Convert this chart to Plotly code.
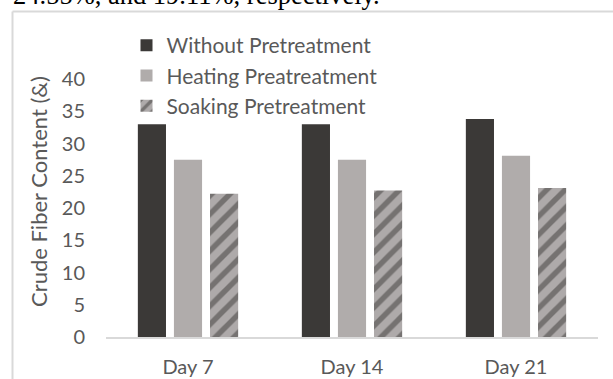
import plotly.graph_objects as go

categories = ["Day 7", "Day 14", "Day 21"]
without_pre = [33.0, 33.0, 33.8]
heating_pre = [27.5, 27.5, 28.1]
soaking_pre = [22.2, 22.7, 23.1]
series_names = ["Without Pretreatment", "Heating Preatreatment", "Soaking Pretreatment"]
y_ticks = [0, 5, 10, 15, 20, 25, 30, 35, 40]
y_title = "Crude Fiber Content (&)"
caption = "24.55%, and 19.11%, respectively."

W, H = 613, 379
ML, MR, MT, MB = 106, 15, 79, 42
PW = W - ML - MR
PH = H - MT - MB

def px_x(p):
    return (p - ML) / PW

def px_y(p):
    return 1 - (p - MT) / PH

FONT = "Lato"
TXT = "#595959"

fig = go.Figure()
fig.add_trace(go.Bar(x=categories, y=without_pre, name=series_names[0],
                     marker=dict(color="#3b3937", line=dict(width=0))))
fig.add_trace(go.Bar(x=categories, y=heating_pre, name=series_names[1],
                     marker=dict(color="#b0acab", line=dict(width=0))))
fig.add_trace(go.Bar(x=categories, y=soaking_pre, name=series_names[2],
                     marker=dict(color="#aeaaaa", line=dict(width=0),
                                 pattern=dict(shape="/", fgcolor="#3b3937",
                                              fillmode="overlay", size=13, solidity=0.42))))

fig.update_layout(
    width=W, height=H,
    margin=dict(l=ML, r=MR, t=MT, b=MB, pad=0, autoexpand=False),
    paper_bgcolor="white", plot_bgcolor="white",
    barmode="group", bargap=0.34, bargroupgap=0.22,
    font=dict(family=FONT, size=20, color=TXT),
    showlegend=True,
    legend=dict(x=px_x(126.5), xanchor="left", y=px_y(25), yanchor="top",
                bgcolor="rgba(0,0,0,0)", font=dict(family=FONT, size=21, color=TXT),
                traceorder="normal", itemclick=False),
)
fig.update_xaxes(showline=True, linecolor="#d9d9d9", linewidth=2, ticks="",
                 showgrid=False, zeroline=False, ticklabelstandoff=11, automargin=False,
                 tickfont=dict(family=FONT, size=20, color=TXT))
fig.update_yaxes(range=[0, 40], tickvals=y_ticks, showgrid=False, zeroline=False,
                 showline=False, ticks="", ticklabelstandoff=20, automargin=False,
                 tickfont=dict(family=FONT, size=20, color=TXT))

# y axis title, placed as in the reference
fig.add_annotation(text=y_title, xref="paper", yref="paper",
                   x=px_x(38), y=px_y(192), xanchor="center", yanchor="middle",
                   textangle=-90, showarrow=False,
                   font=dict(family=FONT, size=22, color=TXT))

# frame lines of the original figure box
fig.add_shape(type="line", xref="paper", yref="paper",
              x0=px_x(12.5), x1=px_x(640), y0=px_y(11.5), y1=px_y(11.5),
              line=dict(color="#d9d9d9", width=2))
fig.add_shape(type="line", xref="paper", yref="paper",
              x0=px_x(12.5), x1=px_x(12.5), y0=px_y(11.5), y1=px_y(400),
              line=dict(color="#d9d9d9", width=2))

# clipped caption text from the surrounding page
fig.add_annotation(text=caption, xref="paper", yref="paper",
                   x=px_x(11), y=px_y(-4.6), xanchor="left", yanchor="middle",
                   showarrow=False, font=dict(family="Liberation Serif", size=26.5, color="black"))

fig.write_html("out.html")
